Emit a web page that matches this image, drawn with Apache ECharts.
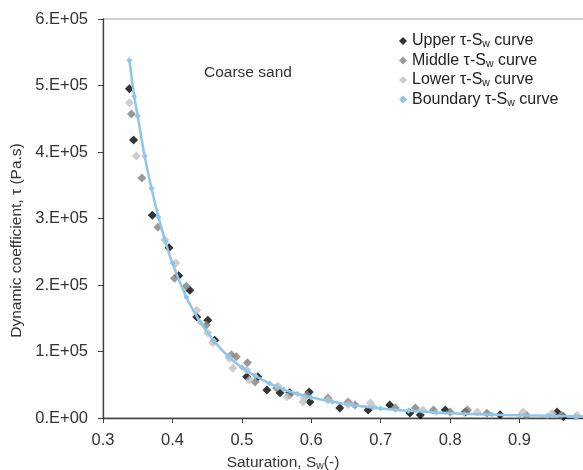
<!DOCTYPE html>
<html>
<head>
<meta charset="utf-8">
<script src="https://cdn.jsdelivr.net/npm/echarts@6/dist/echarts.min.js"></script>
<style>html,body{margin:0;padding:0;background:#fff}#c{width:583px;height:470px}</style>
</head>
<body>
<div id="c"></div>
<script>
// ---- data ----
const upperPts = [[0.338,495000],[0.344,418000],[0.371,305000],[0.395,256000],[0.409,214000],[0.425,192000],[0.435,152000],[0.451,147000],[0.461,117000],[0.507,62000],[0.523,62000],[0.536,42000],[0.555,38000],[0.569,38000],[0.597,39000],[0.598,24000],[0.641,15000],[0.682,12000],[0.713,19500],[0.742,7500],[0.757,4500],[0.793,12000],[0.822,9000],[0.872,5000],[0.954,9000],[0.963,2000]];
const middlePts = [[0.341,457000],[0.356,361000],[0.379,287000],[0.403,210000],[0.420,198000],[0.449,140000],[0.485,95000],[0.492,92000],[0.508,83000],[0.519,54000],[0.550,45000],[0.569,35000],[0.594,35000],[0.624,30000],[0.653,24000],[0.663,19500],[0.721,15000],[0.750,15000],[0.776,12000],[0.800,9000],[0.825,12000],[0.853,7000],[0.910,4000],[0.960,4000]];
const lowerPts = [[0.338,474000],[0.348,394000],[0.389,268000],[0.405,233000],[0.435,162000],[0.451,128000],[0.458,113000],[0.482,90000],[0.487,75000],[0.507,72000],[0.511,57000],[0.552,48000],[0.565,32000],[0.588,24000],[0.590,30000],[0.624,27000],[0.653,20000],[0.685,22500],[0.689,17000],[0.761,12000],[0.839,9000],[0.905,9000],[0.947,7000],[0.983,4000]];
const boundaryPts = [[0.338,538000],[0.345,484000],[0.350,454000],[0.360,394000],[0.370,345000],[0.380,302000],[0.390,265000],[0.400,233000],[0.420,182000],[0.440,144000],[0.460,116000],[0.480,93000],[0.500,76000],[0.520,63000],[0.540,52000],[0.560,43000],[0.580,36500],[0.600,31000],[0.630,24500],[0.660,19500],[0.700,14200],[0.740,10800],[0.780,8300],[0.820,6500],[0.860,5100],[0.900,4000],[0.940,3250],[0.980,2600],[1.000,2400]];
const seriesNames = ['Upper', 'Middle', 'Lower', 'Boundary'];
const yTickLabels = ['0.E+00','1.E+05','2.E+05','3.E+05','4.E+05','5.E+05','6.E+05'];

const FONT = 'Liberation Sans, Arial, sans-serif';
const chart = echarts.init(document.getElementById('c'), null, {renderer: 'canvas'});
const mk = (name, data, color) => ({
  name: name, type: 'scatter', data: data, symbol: 'diamond', symbolSize: 9,
  itemStyle: {color: color}, z: 2
});
chart.setOption({
  animation: false,
  backgroundColor: '#fff',
  textStyle: {fontFamily: FONT},
  title: {text: 'Coarse sand', left: 199, top: 60,
    textStyle: {fontFamily: FONT, fontSize: 15.5, fontWeight: 'normal', color: '#333'}},
  grid: {left: 103, top: 19, right: -6, bottom: 52, show: true, borderColor: '#a6a6a6', borderWidth: 1, outerBoundsMode: 'none', containLabel: false},
  legend: {
    orient: 'vertical', left: 394, top: 27, itemGap: 1.5,
    icon: 'diamond', itemWidth: 8, itemHeight: 8,
    data: seriesNames,
    formatter: n => n + ' τ-S{sub|w} curve',
    textStyle: {fontFamily: FONT, fontSize: 16, color: '#222', lineHeight: 18,
      rich: {sub: {fontFamily: FONT, fontSize: 10.5, color: '#222', lineHeight: 12, verticalAlign: 'bottom'}}}
  },
  xAxis: {
    type: 'value', min: 0.3, max: 1.0, interval: 0.1,
    name: 'Saturation, S{sub|w}(-)', nameLocation: 'middle', nameGap: 31,
    nameTextStyle: {fontFamily: FONT, fontSize: 15.5, color: '#333', lineHeight: 18, padding: [0, 126, 0, 0],
      rich: {sub: {fontFamily: FONT, fontSize: 10.5, color: '#333', lineHeight: 12, verticalAlign: 'bottom'}}},
    axisLine: {onZero: false, lineStyle: {color: '#404040', width: 1.3}},
    axisTick: {show: true, inside: false, length: 5, lineStyle: {color: '#404040'}},
    axisLabel: {fontFamily: FONT, fontSize: 16.5, color: '#333', margin: 14, showMaxLabel: false},
    splitLine: {show: false}
  },
  yAxis: {
    type: 'value', min: 0, max: 600000, interval: 100000,
    name: 'Dynamic coefficient, τ (Pa.s)', nameLocation: 'middle', nameGap: 69, nameRotate: 90,
    nameTextStyle: {fontFamily: FONT, fontSize: 15.5, color: '#333', padding: [0, 44, 0, 0]},
    axisLine: {show: true, lineStyle: {color: '#404040', width: 1.3}},
    axisTick: {show: true, inside: false, length: 5, lineStyle: {color: '#404040'}},
    axisLabel: {fontFamily: FONT, fontSize: 16.5, color: '#333', margin: 15,
      formatter: v => yTickLabels[Math.round(v / 100000)]},
    splitLine: {show: false}
  },
  series: [
    mk('Upper', upperPts, '#000000'),
    mk('Middle', middlePts, '#7f7f7f'),
    mk('Lower', lowerPts, '#c0c0c0'),
    {name: 'Boundary', type: 'line', data: boundaryPts, smooth: true,
      symbol: 'diamond', symbolSize: 6, showSymbol: true,
      lineStyle: {color: '#8ec5ea', width: 2.5}, itemStyle: {color: '#8ec5ea'}, z: 3}
  ]
});
</script>
</body>
</html>
